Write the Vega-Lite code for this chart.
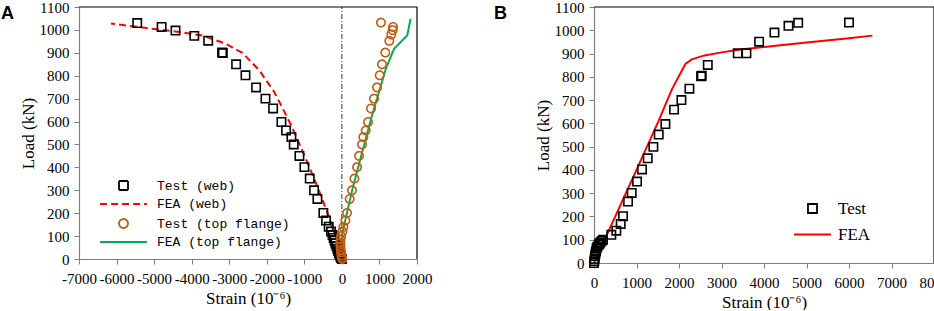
{
  "$schema": "https://vega.github.io/schema/vega-lite/v6.json",
  "padding": {"left": 1, "top": 0, "right": 0, "bottom": 0},
  "spacing": 62,
  "resolve": {
    "scale": {"color": "independent", "shape": "independent", "strokeDash": "independent"},
    "legend": {"color": "independent", "shape": "independent", "strokeDash": "independent"}
  },
  "config": {
    "font": "Liberation Serif",
    "view": {"stroke": null},
    "title": {"font": "Liberation Sans", "fontSize": 18, "fontWeight": "bold", "color": "black", "anchor": "start", "frame": "bounds", "offset": 0}
  },
  "hconcat": [
    {
      "width": 338, "height": 252,
      "title": {"text": "A", "dx": -18, "dy": 27},
      "data": {"values": [
        {"s": "Test (web)", "x": -5450, "y": 1030}, {"s": "Test (web)", "x": -4800, "y": 1013}, {"s": "Test (web)", "x": -4430, "y": 997},
        {"s": "Test (web)", "x": -3930, "y": 974}, {"s": "Test (web)", "x": -3560, "y": 953}, {"s": "Test (web)", "x": -3190, "y": 901},
        {"s": "Test (web)", "x": -3170, "y": 899}, {"s": "Test (web)", "x": -2816, "y": 850}, {"s": "Test (web)", "x": -2567, "y": 802},
        {"s": "Test (web)", "x": -2284, "y": 749}, {"s": "Test (web)", "x": -2035, "y": 700}, {"s": "Test (web)", "x": -1831, "y": 657},
        {"s": "Test (web)", "x": -1610, "y": 598}, {"s": "Test (web)", "x": -1486, "y": 561}, {"s": "Test (web)", "x": -1344, "y": 532},
        {"s": "Test (web)", "x": -1282, "y": 500}, {"s": "Test (web)", "x": -1131, "y": 450}, {"s": "Test (web)", "x": -998, "y": 401},
        {"s": "Test (web)", "x": -856, "y": 351}, {"s": "Test (web)", "x": -741, "y": 300}, {"s": "Test (web)", "x": -652, "y": 262},
        {"s": "Test (web)", "x": -493, "y": 201}, {"s": "Test (web)", "x": -422, "y": 168}, {"s": "Test (web)", "x": -351, "y": 141},
        {"s": "Test (web)", "x": -289, "y": 120}, {"s": "Test (web)", "x": -250, "y": 105}, {"s": "Test (web)", "x": -220, "y": 92},
        {"s": "Test (web)", "x": -195, "y": 80}, {"s": "Test (web)", "x": -170, "y": 68}, {"s": "Test (web)", "x": -145, "y": 57},
        {"s": "Test (web)", "x": -120, "y": 45}, {"s": "Test (web)", "x": -100, "y": 35}, {"s": "Test (web)", "x": -80, "y": 25},
        {"s": "Test (web)", "x": -60, "y": 17}, {"s": "Test (web)", "x": -40, "y": 10}, {"s": "Test (web)", "x": -20, "y": 4},
        {"s": "Test (web)", "x": 0, "y": 0},
        {"s": "Test (top flange)", "x": 1041, "y": 1032}, {"s": "Test (top flange)", "x": 1362, "y": 1013}, {"s": "Test (top flange)", "x": 1351, "y": 999},
        {"s": "Test (top flange)", "x": 1316, "y": 980}, {"s": "Test (top flange)", "x": 1262, "y": 952}, {"s": "Test (top flange)", "x": 1157, "y": 901},
        {"s": "Test (top flange)", "x": 1068, "y": 850}, {"s": "Test (top flange)", "x": 1006, "y": 802}, {"s": "Test (top flange)", "x": 935, "y": 749},
        {"s": "Test (top flange)", "x": 855, "y": 700}, {"s": "Test (top flange)", "x": 776, "y": 657}, {"s": "Test (top flange)", "x": 696, "y": 598},
        {"s": "Test (top flange)", "x": 634, "y": 561}, {"s": "Test (top flange)", "x": 571, "y": 532}, {"s": "Test (top flange)", "x": 536, "y": 500},
        {"s": "Test (top flange)", "x": 457, "y": 450}, {"s": "Test (top flange)", "x": 404, "y": 401}, {"s": "Test (top flange)", "x": 333, "y": 351},
        {"s": "Test (top flange)", "x": 270, "y": 300}, {"s": "Test (top flange)", "x": 208, "y": 262}, {"s": "Test (top flange)", "x": 137, "y": 201},
        {"s": "Test (top flange)", "x": 93, "y": 168}, {"s": "Test (top flange)", "x": 40, "y": 140}, {"s": "Test (top flange)", "x": 15, "y": 120},
        {"s": "Test (top flange)", "x": -20, "y": 100}, {"s": "Test (top flange)", "x": -35, "y": 85}, {"s": "Test (top flange)", "x": -40, "y": 70},
        {"s": "Test (top flange)", "x": -35, "y": 55}, {"s": "Test (top flange)", "x": -30, "y": 40}, {"s": "Test (top flange)", "x": -20, "y": 28},
        {"s": "Test (top flange)", "x": -10, "y": 15}, {"s": "Test (top flange)", "x": 0, "y": 6}, {"s": "Test (top flange)", "x": 10, "y": 0},
        {"s": "FEA (web)", "x": -6150, "y": 1028}, {"s": "FEA (web)", "x": -5200, "y": 1008}, {"s": "FEA (web)", "x": -4340, "y": 991},
        {"s": "FEA (web)", "x": -3700, "y": 975}, {"s": "FEA (web)", "x": -3100, "y": 940}, {"s": "FEA (web)", "x": -2650, "y": 900},
        {"s": "FEA (web)", "x": -2200, "y": 824}, {"s": "FEA (web)", "x": -1800, "y": 729}, {"s": "FEA (web)", "x": -1350, "y": 584},
        {"s": "FEA (web)", "x": -980, "y": 445}, {"s": "FEA (web)", "x": -700, "y": 335}, {"s": "FEA (web)", "x": -565, "y": 280},
        {"s": "FEA (web)", "x": -350, "y": 185}, {"s": "FEA (web)", "x": -150, "y": 90}, {"s": "FEA (web)", "x": 0, "y": 0},
        {"s": "FEA (top flange)", "x": 0, "y": 0}, {"s": "FEA (top flange)", "x": 10, "y": 110}, {"s": "FEA (top flange)", "x": 280, "y": 305},
        {"s": "FEA (top flange)", "x": 530, "y": 460}, {"s": "FEA (top flange)", "x": 790, "y": 620}, {"s": "FEA (top flange)", "x": 1170, "y": 830},
        {"s": "FEA (top flange)", "x": 1390, "y": 918}, {"s": "FEA (top flange)", "x": 1740, "y": 976}, {"s": "FEA (top flange)", "x": 1830, "y": 1049}
      ]},
      "encoding": {
        "x": {"field": "x", "type": "quantitative", "title": "Strain (10⁻⁶)", "scale": {"domain": [-7000, 2000], "nice": false, "zero": false},
          "axis": {"values": [-7000, -6000, -5000, -4000, -3000, -2000, -1000, 0, 1000, 2000], "labelExpr": "toString(datum.value)", "labelOverlap": false, "labelFlush": false,
            "grid": false, "domainColor": "#808080", "tickColor": "#808080", "domainWidth": 1.2, "tickSize": 5,
            "labelFont": "Liberation Serif", "labelFontSize": 15, "labelColor": "black", "labelPadding": 7,
            "titleFont": "Liberation Serif", "titleFontSize": 17, "titleFontWeight": "normal", "titleColor": "black", "titlePadding": 4}},
        "y": {"field": "y", "type": "quantitative", "title": "Load (kN)", "scale": {"domain": [0, 1100], "nice": false},
          "axis": {"values": [0, 100, 200, 300, 400, 500, 600, 700, 800, 900, 1000, 1100], "format": "d", "labelOverlap": false,
            "grid": false, "domainColor": "#808080", "tickColor": "#808080", "domainWidth": 1.2, "tickSize": 5,
            "labelFont": "Liberation Serif", "labelFontSize": 15, "labelColor": "black", "labelPadding": 5,
            "titleFont": "Liberation Serif", "titleFontSize": 17, "titleFontWeight": "normal", "titleColor": "black", "titlePadding": 2}}
      },
      "layer": [
        {
          "data": {"values": [{"x": 0, "y": 0, "y2": 1100}]},
          "mark": {"type": "rule", "color": "#333333", "strokeWidth": 1, "strokeDash": [5, 2, 1, 2]},
          "encoding": {"y2": {"field": "y2"}}
        },
        {
          "data": {"values": [{"x": 2000, "y": 0, "y2": 1100}]},
          "mark": {"type": "rule", "color": "black", "strokeWidth": 1.2},
          "encoding": {"y2": {"field": "y2"}}
        },
        {
          "data": {"values": [{"x": -7000, "x2": 2000, "y": 1100}]},
          "mark": {"type": "rule", "color": "black", "strokeWidth": 1.2},
          "encoding": {"x2": {"field": "x2"}}
        },
        {
          "transform": [{"filter": "indexof(datum.s, 'FEA') == 0"}],
          "mark": {"type": "line", "strokeWidth": 2},
          "encoding": {
            "order": {"field": "y"},
            "color": {"field": "s", "type": "nominal"},
            "strokeDash": {"field": "s", "type": "nominal"}
          }
        },
        {
          "transform": [{"filter": "indexof(datum.s, 'Test') == 0"}],
          "mark": {"type": "point", "filled": false, "strokeWidth": 1.6, "size": 70, "opacity": 1},
          "encoding": {
            "color": {"field": "s", "type": "nominal", "title": null,
              "scale": {"domain": ["Test (web)", "FEA (web)", "Test (top flange)", "FEA (top flange)"], "range": ["#000000", "#ff0000", "#c55a11", "#00b050"]},
              "legend": {"orient": "none", "legendX": 38, "legendY": 172, "padding": 0, "labelFont": "Liberation Mono", "labelFontSize": 13, "labelOffset": 27, "rowPadding": 3.5, "symbolSize": 81, "symbolStrokeWidth": 1.8, "labelColor": "black"}},
            "shape": {"field": "s", "type": "nominal",
              "scale": {"domain": ["Test (web)", "FEA (web)", "Test (top flange)", "FEA (top flange)"], "range": ["square", "M-5.2,0H5.2", "circle", "M-5.2,0H5.2"]}},
            "strokeDash": {"field": "s", "type": "nominal",
              "scale": {"domain": ["Test (web)", "FEA (web)", "Test (top flange)", "FEA (top flange)"], "range": [[1, 0], [7, 4], [1, 0], [1, 0]]}}
          }
        }
      ]
    },
    {
      "width": 340, "height": 256,
      "title": {"text": "B", "dx": -40, "dy": 27},
      "data": {"values": [
        {"s": "Test", "x": 6000, "y": 1033}, {"s": "Test", "x": 4804, "y": 1032}, {"s": "Test", "x": 4576, "y": 1019},
        {"s": "Test", "x": 4246, "y": 990}, {"s": "Test", "x": 3885, "y": 951}, {"s": "Test", "x": 3587, "y": 901},
        {"s": "Test", "x": 3383, "y": 901}, {"s": "Test", "x": 2677, "y": 851}, {"s": "Test", "x": 2520, "y": 802},
        {"s": "Test", "x": 2535, "y": 805}, {"s": "Test", "x": 2245, "y": 749}, {"s": "Test", "x": 2057, "y": 700},
        {"s": "Test", "x": 1884, "y": 659}, {"s": "Test", "x": 1680, "y": 597}, {"s": "Test", "x": 1523, "y": 552},
        {"s": "Test", "x": 1397, "y": 499}, {"s": "Test", "x": 1264, "y": 450}, {"s": "Test", "x": 1130, "y": 402},
        {"s": "Test", "x": 1013, "y": 350}, {"s": "Test", "x": 887, "y": 301}, {"s": "Test", "x": 801, "y": 264},
        {"s": "Test", "x": 683, "y": 201}, {"s": "Test", "x": 628, "y": 168}, {"s": "Test", "x": 526, "y": 139},
        {"s": "Test", "x": 408, "y": 121}, {"s": "Test", "x": 212, "y": 100}, {"s": "Test", "x": 180, "y": 95},
        {"s": "Test", "x": 150, "y": 88}, {"s": "Test", "x": 130, "y": 84}, {"s": "Test", "x": 110, "y": 78},
        {"s": "Test", "x": 80, "y": 70}, {"s": "Test", "x": 60, "y": 62}, {"s": "Test", "x": 45, "y": 50},
        {"s": "Test", "x": 35, "y": 40}, {"s": "Test", "x": 25, "y": 30}, {"s": "Test", "x": 15, "y": 18},
        {"s": "Test", "x": 8, "y": 8}, {"s": "Test", "x": 0, "y": 0},
        {"s": "FEA", "x": 0, "y": 0}, {"s": "FEA", "x": 1000, "y": 400}, {"s": "FEA", "x": 1510, "y": 606},
        {"s": "FEA", "x": 1830, "y": 745}, {"s": "FEA", "x": 2150, "y": 855}, {"s": "FEA", "x": 2300, "y": 875},
        {"s": "FEA", "x": 2600, "y": 892}, {"s": "FEA", "x": 3000, "y": 905}, {"s": "FEA", "x": 3500, "y": 918},
        {"s": "FEA", "x": 4000, "y": 928}, {"s": "FEA", "x": 5000, "y": 947}, {"s": "FEA", "x": 6000, "y": 966},
        {"s": "FEA", "x": 6550, "y": 977}
      ]},
      "encoding": {
        "x": {"field": "x", "type": "quantitative", "title": "Strain (10⁻⁶)", "scale": {"domain": [0, 8000], "nice": false},
          "axis": {"values": [0, 1000, 2000, 3000, 4000, 5000, 6000, 7000, 8000], "format": "d", "labelOverlap": false, "labelFlush": false,
            "grid": false, "domainColor": "#808080", "tickColor": "#808080", "domainWidth": 1.2, "tickSize": 5,
            "labelFont": "Liberation Serif", "labelFontSize": 15, "labelColor": "black", "labelPadding": 7,
            "titleFont": "Liberation Serif", "titleFontSize": 17, "titleFontWeight": "normal", "titleColor": "black", "titlePadding": 4}},
        "y": {"field": "y", "type": "quantitative", "title": "Load (kN)", "scale": {"domain": [0, 1100], "nice": false},
          "axis": {"values": [0, 100, 200, 300, 400, 500, 600, 700, 800, 900, 1000, 1100], "format": "d", "labelOverlap": false,
            "grid": false, "domainColor": "#808080", "tickColor": "#808080", "domainWidth": 1.2, "tickSize": 5,
            "labelFont": "Liberation Serif", "labelFontSize": 15, "labelColor": "black", "labelPadding": 5,
            "titleFont": "Liberation Serif", "titleFontSize": 17, "titleFontWeight": "normal", "titleColor": "black", "titlePadding": 2}}
      },
      "layer": [
        {
          "data": {"values": [{"x": 8000, "y": 0, "y2": 1100}]},
          "mark": {"type": "rule", "color": "black", "strokeWidth": 1.2},
          "encoding": {"y2": {"field": "y2"}}
        },
        {
          "data": {"values": [{"x": 0, "x2": 8000, "y": 1100}]},
          "mark": {"type": "rule", "color": "black", "strokeWidth": 1.2},
          "encoding": {"x2": {"field": "x2"}}
        },
        {
          "transform": [{"filter": "datum.s == 'FEA'"}],
          "mark": {"type": "line", "strokeWidth": 2},
          "encoding": {
            "color": {"field": "s", "type": "nominal"}
          }
        },
        {
          "transform": [{"filter": "datum.s == 'Test'"}],
          "mark": {"type": "point", "filled": false, "strokeWidth": 1.6, "size": 70, "opacity": 1},
          "encoding": {
            "color": {"field": "s", "type": "nominal", "title": null,
              "scale": {"domain": ["Test", "FEA"], "range": ["#000000", "#ff0000"]},
              "legend": {"orient": "none", "legendX": 210, "legendY": 193, "padding": 0, "labelFont": "Liberation Serif", "labelFontSize": 17, "labelOffset": 17, "rowPadding": 8, "symbolSize": 81, "symbolStrokeWidth": 1.8, "labelColor": "black"}},
            "shape": {"field": "s", "type": "nominal",
              "scale": {"domain": ["Test", "FEA"], "range": ["square", "M-4.1,0H4.1"]}}
          }
        }
      ]
    }
  ]
}
